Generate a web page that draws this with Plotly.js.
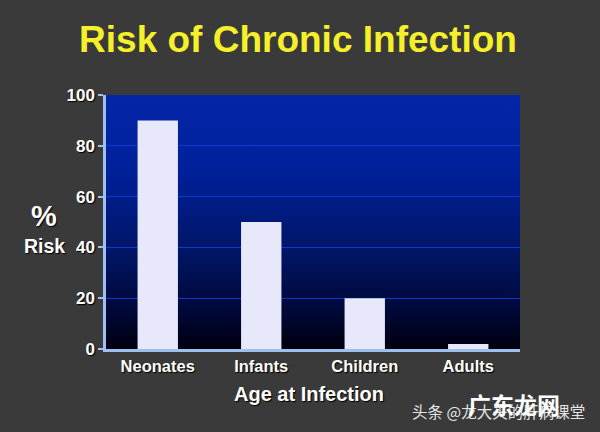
<!DOCTYPE html>
<html>
<head>
<meta charset="utf-8">
<script src="https://cdn.plot.ly/plotly-3.0.1.min.js"></script>
<style>html,body{margin:0;padding:0;background:#3a3a3a;}</style>
</head>
<body>
<div id="plot" style="width:600px;height:432px;"></div>
<script>
var ages = ["Neonates", "Infants", "Children", "Adults"];
var risk = [90, 50, 20, 2];
var yTicks = [0, 20, 40, 60, 80, 100];

var W = 600, H = 432;
var M = {l: 106, r: 80, t: 95, b: 83};
var shadow = "1px 1px 1px #000";
var sans = "Liberation Sans, Arial, sans-serif";

// pixel position in the picture to paper coordinates, for the loose labels
function px(x){ return (x - M.l) / (W - M.l - M.r); }
function py(y){ return (H - M.b - y) / (H - M.t - M.b); }

// vertical blue to black fade behind the bars
var grad = '<svg xmlns="http://www.w3.org/2000/svg" width="10" height="100" preserveAspectRatio="none">' +
    '<defs><linearGradient id="g" x1="0" y1="0" x2="0" y2="1">' +
    '<stop offset="0" stop-color="#0326a8"/>' +
    '<stop offset="0.3" stop-color="#00209a"/>' +
    '<stop offset="0.6" stop-color="#001668"/>' +
    '<stop offset="0.85" stop-color="#000838"/>' +
    '<stop offset="1" stop-color="#00000f"/>' +
    '</linearGradient></defs><rect width="10" height="100" fill="url(#g)"/></svg>';

var trace = {
    type: "bar",
    x: ages,
    y: risk,
    width: 0.39,
    marker: {color: "#e8e8fb", line: {width: 0}},
    hoverinfo: "skip"
};

function label(text, x, y, size, color){
    return {
        text: text, xref: "paper", yref: "paper", x: px(x), y: py(y),
        xanchor: "center", yanchor: "middle", showarrow: false,
        font: {family: sans, size: size, color: color, shadow: shadow}
    };
}

var layout = {
    width: W,
    height: H,
    margin: M,
    paper_bgcolor: "#3a3a3a",
    plot_bgcolor: "rgba(0,0,0,0)",
    showlegend: false,
    font: {family: sans, color: "#ffffff"},
    title: {
        text: "<b>Risk of Chronic Infection</b>",
        x: 298 / W,
        xanchor: "center",
        y: 1 - 39 / H,
        yanchor: "middle",
        font: {family: sans, size: 37, color: "#f5f02a"}
    },
    xaxis: {
        type: "category",
        showgrid: false,
        showline: true,
        linecolor: "#9fc0ee",
        linewidth: 2.5,
        ticks: "",
        tickfont: {family: sans, size: 16.5, weight: "bold", color: "#ffffff", shadow: shadow}
    },
    yaxis: {
        range: [0, 100],
        tickvals: yTicks,
        showgrid: true,
        gridcolor: "#0a3ad0",
        gridwidth: 1,
        zeroline: false,
        showline: true,
        linecolor: "#9fc0ee",
        linewidth: 2.5,
        ticks: "outside",
        ticklen: 5,
        tickwidth: 2,
        tickcolor: "#9fc0ee",
        tickfont: {family: sans, size: 17, weight: "bold", color: "#ffffff", shadow: shadow}
    },
    images: [{
        source: "data:image/svg+xml;charset=utf-8," + encodeURIComponent(grad),
        xref: "paper", yref: "paper",
        x: 0, y: 1,
        sizex: 1, sizey: 1,
        sizing: "stretch",
        xanchor: "left", yanchor: "top",
        layer: "below"
    }],
    annotations: [
        label("<b>%</b>", 44, 216, 29, "#ffffff"),
        label("<b>Risk</b>", 44, 246, 19.5, "#ffffff"),
        label("<b>Age at Infection</b>", 309, 394, 20, "#ffffff"),
        {text: "头条 @龙大夫的肝病课堂", xref: "paper", yref: "paper", x: px(587), xanchor: "right", y: py(411), yanchor: "middle",
            showarrow: false, font: {family: "Noto Sans CJK SC", size: 15.5, color: "#e4e4e4"}},
        {text: "广东龙网", xref: "paper", yref: "paper", x: px(514), xanchor: "center", y: py(404), yanchor: "middle",
            showarrow: false, font: {family: "Noto Sans CJK SC", size: 23, weight: "bold", color: "#ffffff"}}
    ]
};

Plotly.newPlot("plot", [trace], layout, {displayModeBar: false});
</script>
</body>
</html>
